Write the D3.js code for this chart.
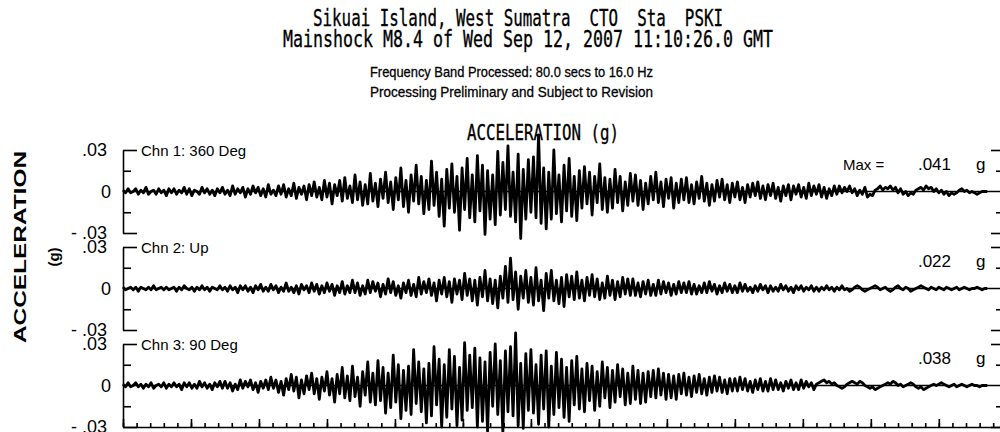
<!DOCTYPE html>
<html>
<head>
<meta charset="utf-8">
<style>
    body { margin: 0; background: #fff; }
    svg { display: block; }
    text { fill: #000; }
    .mono { font-family: "DejaVu Sans Mono", monospace; white-space: pre; stroke: #000; stroke-width: 0.35; }
    .narrow { font-family: "Liberation Sans Narrow", "Liberation Sans", Arial, sans-serif; }
    .axis path, .axis line { stroke: #000; stroke-width: 1.6; }
    .trace { fill: none; stroke: #000; stroke-width: 2.8; stroke-linejoin: round; }
</style>
</head>
<body>
<svg width="1000" height="432"></svg>

<script src="https://d3js.org/d3.v7.min.js"></script>
<script>

// channel names
const channels = ["Chn 1: 360 Deg", "Chn 2: Up", "Chn 3: 90 Deg"];

// acceleration samples in thousandths of g, one every 0.75 s
const chn1 = [
    1,-1,2,-1,0,2,-2,1,-1,3,-2,0,1,-2,2,-1,1,-3,2,-1,
    2,-2,1,-1,3,-2,2,-3,1,0,-2,3,-1,2,-2,1,-3,2,-1,3,
    -2,1,-3,4,-2,2,-1,3,-4,2,-2,4,-1,3,-3,2,-4,5,-2,1,
    -3,4,-2,5,-4,2,-3,6,-5,3,-2,4,-6,5,-3,7,-4,3,-6,8,
    -4,6,-9,5,-3,8,-7,10,-5,4,-8,12,-6,7,-10,5,-9,13,-7,6,
    -11,9,-5,14,-8,7,-13,10,-6,17,-11,8,-15,12,-7,19,-9,11,-16,8,
    -13,22,-10,14,-18,9,-25,16,-12,20,-15,11,-28,17,-13,24,-19,12,-22,26,
    -14,19,-31,15,-20,12,-24,29,-17,21,-13,33,-18,14,-22,27,-34,16,-20,23,
    -15,25,-19,41,-23,17,-27,14,-20,30,-16,12,-22,19,-14,24,-18,11,-21,15,
    -12,18,-9,14,-17,11,-8,20,-13,10,-15,9,-12,16,-8,11,-14,7,-10,13,
    -7,12,-10,8,-13,6,-9,11,-6,14,-8,7,-11,9,-5,10,-12,6,-8,9,
    -6,10,-8,5,-9,7,-5,11,-7,6,-10,5,-7,8,-4,9,-6,5,-8,6,
    -4,7,-6,3,-8,5,-4,6,-3,7,-5,4,-6,5,-3,6,-5,3,-7,4,
    -3,5,-6,4,-2,5,-4,3,-5,6,-3,4,-2,5,-4,3,-5,2,-3,4,
    -2,4,-1,3,0,4,-1,2,-3,1,-2,3,-4,-2,-3,1,2,4,1,3,
    2,4,1,3,-1,2,-2,0,-3,-1,-2,1,2,3,1,4,2,3,0,2,
    -1,1,-2,0,-3,-1,-2,-1,1,2,0,1,-1,0,-1,-2,-1,0,0,0
];

const chn2 = [
    1,-1,0,1,-1,1,-2,1,0,-1,1,-1,2,-1,0,1,-1,1,-1,0,
    1,-2,1,-1,2,0,-1,1,-2,1,-1,2,-1,1,-2,1,0,-1,2,-1,
    1,-2,2,-1,1,-3,2,-1,2,-2,1,-3,2,-1,3,-2,1,-2,3,-1,
    2,-3,1,-2,4,-2,1,-3,2,-4,3,-1,2,-3,4,-2,3,-4,2,-3,
    4,-2,3,-5,2,-3,5,-4,2,-3,6,-3,4,-5,2,-4,6,-3,5,-2,
    4,-6,3,-4,7,-3,5,-5,2,-7,4,-3,6,-5,3,-6,8,-4,5,-3,
    7,-5,4,-9,6,-4,8,-6,5,-10,7,-4,6,-8,11,-5,7,-9,6,-12,
    8,-6,13,-9,7,-11,6,-14,9,-7,16,-10,22,-8,12,-15,9,-7,13,-10,
    8,-12,15,-9,6,-16,11,-7,13,-9,6,-11,8,-13,10,-6,9,-8,12,-7,
    6,-9,8,-5,10,-6,7,-8,4,-7,9,-5,6,-8,5,-6,8,-4,7,-5,
    7,-5,4,-6,5,-4,6,-5,3,-5,6,-4,5,-3,4,-5,3,-4,5,-3,
    4,-3,5,-4,3,-4,2,-3,4,-3,5,-2,3,-4,2,-3,4,-2,3,-3,
    2,-3,4,-2,3,-2,1,-3,2,-2,3,-1,2,-3,2,-2,1,-2,3,-1,
    2,-2,1,-3,2,-1,2,-2,1,-1,2,-2,1,-2,1,-1,2,-1,1,-2,
    1,-1,2,-1,0,-2,-1,1,2,1,-1,-2,-1,0,1,2,1,-1,0,1,
    -1,-2,-1,1,2,0,-1,1,0,-2,-1,0,1,2,1,0,-1,1,0,-1,
    1,0,-1,1,0,-1,0,1,-1,0,1,0,-1,0,0,1,0,-1,0,0
];

const chn3 = [
    1,-1,2,-1,0,2,-1,1,-2,1,-1,2,-2,0,1,-1,2,-2,1,-1,
    2,-1,1,-3,2,-1,2,-2,1,-2,3,-1,2,-2,1,-3,2,-1,3,-2,
    3,-2,2,-4,1,-3,4,-2,3,-1,4,-3,2,-5,3,-2,4,-3,6,-2,
    4,-5,3,-7,5,-3,8,-4,6,-9,4,-6,7,-3,9,-6,5,-10,6,-4,
    10,-7,5,-12,8,-6,13,-9,7,-11,14,-8,6,-15,10,-7,17,-12,9,-14,
    18,-11,13,-20,9,-16,22,-12,15,-24,11,-18,14,-21,26,-13,17,-19,12,-27,
    16,-22,28,-14,19,-30,15,-23,26,-17,21,-29,13,-25,31,-18,22,-16,27,-30,
    20,-26,17,-33,24,-15,30,-21,18,-34,25,-19,28,-22,38,-29,16,-31,23,-18,
    26,-20,15,-28,22,-17,25,-30,14,-21,24,-16,19,-23,13,-26,18,-14,21,-17,
    12,-19,16,-11,14,-18,10,-15,17,-9,13,-16,11,-12,15,-8,12,-14,9,-13,
    14,-10,11,-13,9,-12,10,-8,11,-9,12,-7,9,-10,8,-9,7,-10,8,-6,
    9,-7,6,-8,7,-5,8,-6,5,-7,6,-5,7,-4,6,-5,4,-6,5,-4,
    5,-4,6,-3,5,-4,3,-5,4,-3,5,-4,3,-4,5,-3,4,-3,2,-4,
    3,-2,4,-3,2,-3,4,-2,3,-1,2,-3,1,2,3,4,2,3,1,2,
    0,-1,-2,-1,1,2,3,2,1,3,2,0,-1,-2,-1,-3,-2,-1,0,1,
    2,1,3,2,0,1,-1,0,1,2,1,-1,-2,-1,-3,-2,-1,0,1,0,
    1,2,1,0,-1,0,1,-1,0,1,0,-1,0,1,0,0,-1,0,0,0
];

const traces = [chn1, chn2, chn3];
const dt = 0.75;          // seconds between samples
const tEnd = 258;         // seconds across the plot
const yTicks = [-0.03, 0.03];
const yMinorTicks = [-0.015, 0.015];
const titleLines = [
    "Sikuai Island, West Sumatra  CTO  Sta  PSKI",
    "Mainshock M8.4 of Wed Sep 12, 2007 11:10:26.0 GMT"
];
const subLines = [
    "Frequency Band Processed: 80.0 secs to 16.0 Hz",
    "Processing Preliminary and Subject to Revision"
];

let svg = d3.select("svg");

let left = 123, right = 1000;
let panelTop = 150, panelH = 83, panelStep = 97;

let x = d3.scaleLinear().domain([0, tEnd]).range([left, right]);

// headings
svg.append("text").attr("class", "mono")
    .attr("x", 313).attr("y", 26)
    .attr("font-size", 23)
    .attr("textLength", 410).attr("lengthAdjust", "spacingAndGlyphs")
    .text(titleLines[0]);
svg.append("text").attr("class", "mono")
    .attr("x", 283).attr("y", 47)
    .attr("font-size", 23)
    .attr("textLength", 490).attr("lengthAdjust", "spacingAndGlyphs")
    .text(titleLines[1]);

svg.selectAll(".sub")
    .data(subLines)
    .join("text")
    .attr("class", "sub narrow")
    .attr("x", 370)
    .attr("y", (d, i) => 77 + i * 20)
    .attr("font-size", 15)
    .attr("stroke", "#000").attr("stroke-width", 0.3)
    .attr("textLength", 283).attr("lengthAdjust", "spacingAndGlyphs")
    .text(d => d);

svg.append("text").attr("class", "mono")
    .attr("x", 467).attr("y", 140)
    .attr("font-size", 21)
    .attr("textLength", 152).attr("lengthAdjust", "spacingAndGlyphs")
    .text("ACCELERATION (g)");

// left axis title
svg.append("text")
    .attr("transform", "translate(26,247) rotate(-90)")
    .attr("text-anchor", "middle")
    .attr("font-family", "Liberation Sans, Arial, sans-serif")
    .attr("font-weight", "bold")
    .attr("font-size", 17)
    .attr("textLength", 192).attr("lengthAdjust", "spacingAndGlyphs")
    .text("ACCELERATION");
svg.append("text")
    .attr("transform", "translate(59,257) rotate(-90)")
    .attr("text-anchor", "middle")
    .attr("font-family", "Liberation Sans, Arial, sans-serif")
    .attr("font-weight", "bold")
    .attr("font-size", 15)
    .text("(g)");

let tickFmt = d => d === 0 ? "0" : (d < 0 ? "- " : "") + d3.format(".2f")(Math.abs(d)).replace("0.", ".");

traces.forEach((data, k) => {
    let top = panelTop + k * panelStep;
    let y = d3.scaleLinear().domain([-0.03, 0.03]).range([top + panelH, top]);
    let g = svg.append("g");

    // left bracket with long ticks + labels
    g.append("g").attr("class", "axis narrow")
        .attr("transform", `translate(${left},0)`)
        .call(d3.axisLeft(y).tickValues(yTicks).tickSizeInner(-14).tickSizeOuter(0)
            .tickPadding(16).tickFormat(tickFmt))
        .call(a => a.selectAll("text").attr("font-size", 18).attr("font-family", "Liberation Sans Narrow, Liberation Sans, Arial"));
    g.append("g").attr("class", "axis")
        .attr("transform", `translate(${left},0)`)
        .call(d3.axisLeft(y).tickValues(yMinorTicks).tickSizeInner(-8).tickSizeOuter(0).tickFormat(""))
        .call(a => a.select(".domain").remove());
    g.append("g").attr("class", "axis")
        .attr("transform", `translate(${left},0)`)
        .call(d3.axisLeft(y).tickValues([0]).tickSize(0).tickPadding(12).tickFormat(tickFmt))
        .call(a => a.select(".domain").remove())
        .call(a => a.selectAll("text").attr("font-size", 18).attr("font-family", "Liberation Sans Narrow, Liberation Sans, Arial"));

    // right side ticks
    g.append("g").attr("class", "axis")
        .attr("transform", `translate(${right + 1},0)`)
        .call(d3.axisRight(y).tickValues(yTicks).tickSizeInner(-10).tickSizeOuter(0).tickFormat(""));
    g.append("g").attr("class", "axis")
        .attr("transform", `translate(${right + 1},0)`)
        .call(d3.axisRight(y).tickValues(yMinorTicks).tickSizeInner(-5).tickSizeOuter(0).tickFormat(""))
        .call(a => a.select(".domain").remove());

    // zero line
    g.append("line")
        .attr("x1", x(0)).attr("x2", x(tEnd))
        .attr("y1", y(0)).attr("y2", y(0))
        .attr("stroke", "#000").attr("stroke-width", 1.6);

    // trace
    let line = d3.line()
        .x((d, i) => x(i * dt))
        .y(d => y(d / 1000));
    g.append("path")
        .datum(data)
        .attr("class", "trace")
        .attr("d", line);

    // channel name
    g.append("text").attr("class", "narrow")
        .attr("x", 141).attr("y", top + 6)
        .attr("font-size", 15)
        .text(channels[k]);

    // max value
    let maxVal = d3.max(data, d => Math.abs(d)) / 1000;
    if (k === 0) {
        g.append("text").attr("class", "narrow")
            .attr("x", 843).attr("y", top + 20)
            .attr("font-size", 15)
            .text("Max =");
    }
    g.append("text").attr("class", "narrow")
        .attr("x", 951).attr("y", top + 20)
        .attr("text-anchor", "end")
        .attr("font-size", 17)
        .text(d3.format(".3f")(maxVal).replace("0.", "."));
    g.append("text").attr("class", "narrow")
        .attr("x", 976).attr("y", top + 20)
        .attr("font-size", 17)
        .text("g");

    // time axis under the last channel
    if (k === traces.length - 1) {
        svg.append("g").attr("class", "axis")
            .attr("transform", `translate(0,${top + panelH})`)
            .call(d3.axisBottom(x).tickValues(d3.range(0, tEnd + 1, 4)).tickSizeInner(-4).tickSizeOuter(0).tickFormat(""));
        svg.append("g").attr("class", "axis")
            .attr("transform", `translate(0,${top + panelH})`)
            .call(d3.axisBottom(x).tickValues(d3.range(0, tEnd + 1, 20)).tickSizeInner(-8).tickSizeOuter(0).tickFormat(""))
            .call(a => a.select(".domain").remove());
    }
});

</script>
</body>
</html>
